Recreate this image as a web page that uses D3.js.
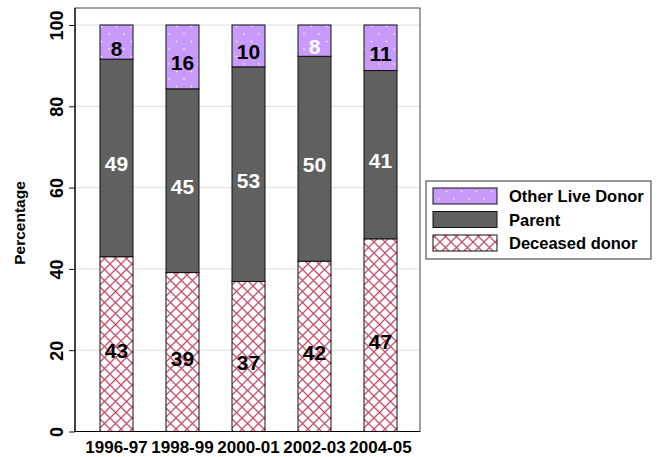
<!DOCTYPE html>
<html lang="en">
<head>
  <meta charset="UTF-8">
  <title>donor source</title>
  <script src="https://d3js.org/d3.v7.min.js"></script>
  <style>
    body { margin: 0; background: #fff; }
    svg { font-family: "Liberation Sans", Arial, sans-serif; font-weight: bold; }
  </style>
</head>
<body>
  <svg id="chart" width="658" height="457"></svg>

  <script>
    // data (percentages, labels show rounded values)
    const periods = ["1996-97", "1998-99", "2000-01", "2002-03", "2004-05"];
    const deceased = [43.0, 39.1, 36.9, 41.9, 47.4];
    const parent = [48.6, 45.2, 52.8, 50.4, 41.4];
    const otherLive = [8.4, 15.7, 10.3, 7.7, 11.2];
    const yTicks = [0, 20, 40, 60, 80, 100];
    const legendNames = ["Other Live Donor", "Parent", "Deceased donor"];

    const svg = d3.select("#chart");
    const frame = { left: 75, top: 8, right: 420, bottom: 431.5 };

    const x = d3.scaleBand().domain(periods)
      .range([83.5, 413.5])
      .paddingInner(0.5).paddingOuter(0.25);
    const y = d3.scaleLinear().domain([0, 100]).range([431.5, 25]);
    const fmt = d3.format(".0f");

    // patterns
    const defs = svg.append("defs");
    const dots = defs.append("pattern").attr("id", "dots")
      .attr("patternUnits", "userSpaceOnUse").attr("width", 15).attr("height", 15);
    dots.append("rect").attr("width", 15).attr("height", 15).attr("fill", "#c89bfa");
    dots.append("circle").attr("cx", 4).attr("cy", 4).attr("r", 0.8).attr("fill", "#fff");
    dots.append("circle").attr("cx", 11.5).attr("cy", 11.5).attr("r", 0.8).attr("fill", "#fff");

    const hatch = defs.append("pattern").attr("id", "hatch")
      .attr("patternUnits", "userSpaceOnUse").attr("width", 11).attr("height", 11);
    hatch.append("rect").attr("width", 11).attr("height", 11).attr("fill", "#fff");
    hatch.append("path").attr("d", "M0,0L11,11M11,0L0,11M-1,10L1,12M10,-1L12,1")
      .attr("stroke", "#c9506f").attr("stroke-width", 1.3);

    // grid
    svg.append("g").selectAll("line").data(yTicks.filter(d => d > 0))
      .join("line")
      .attr("x1", frame.left).attr("x2", frame.right)
      .attr("y1", d => y(d)).attr("y2", d => y(d))
      .attr("stroke", "#dddddd").attr("stroke-width", 1);

    // frame
    svg.append("rect")
      .attr("x", frame.left).attr("y", frame.top)
      .attr("width", frame.right - frame.left).attr("height", frame.bottom - frame.top)
      .attr("fill", "none").attr("stroke", "#444").attr("stroke-width", 1);
    svg.append("path")
      .attr("d", `M${frame.left},${frame.top}V${frame.bottom}H${frame.right}`)
      .attr("fill", "none").attr("stroke", "#000").attr("stroke-width", 1.2);

    // stacked bars
    const series = [
      { key: "deceased", vals: deceased, fill: "url(#hatch)" },
      { key: "parent", vals: parent, fill: "#606060" },
      { key: "other", vals: otherLive, fill: "url(#dots)" }
    ];
    const base = periods.map(() => 0);
    series.forEach(s => {
      const g = svg.append("g");
      const segs = periods.map((p, i) => {
        const seg = { p, i, y0: base[i], y1: base[i] + s.vals[i], v: s.vals[i] };
        base[i] += s.vals[i];
        return seg;
      });
      g.selectAll("rect").data(segs).join("rect")
        .attr("x", d => x(d.p))
        .attr("y", d => y(d.y1))
        .attr("width", x.bandwidth())
        .attr("height", d => y(d.y0) - y(d.y1))
        .attr("fill", s.fill)
        .attr("stroke", "#111").attr("stroke-width", 1);
      g.selectAll("text").data(segs).join("text")
        .attr("x", d => x(d.p) + x.bandwidth() / 2)
        .attr("y", d => y((d.y0 + d.y1) / 2) + 13.5)
        .attr("text-anchor", "middle")
        .attr("font-size", 21)
        .attr("fill", d => (s.key === "parent" || (s.key === "other" && d.i === 3)) ? "#fff" : "#000")
        .text(d => fmt(d.v));
    });

    // y axis
    const yAxis = svg.append("g")
      .attr("transform", "translate(" + frame.left + ",0)")
      .call(d3.axisLeft(y).tickValues(yTicks).tickSize(6).tickSizeOuter(0));
    yAxis.select(".domain").remove();
    yAxis.selectAll(".tick line").attr("stroke", "#111");
    yAxis.selectAll(".tick text")
      .attr("x", 0).attr("dy", 0)
      .attr("transform", "translate(-12,0) rotate(-90)")
      .attr("text-anchor", "middle")
      .attr("font-size", 18).attr("font-weight", "bold")
      .attr("font-family", "Liberation Sans, Arial, sans-serif")
      .attr("fill", "#000");

    svg.append("text")
      .attr("transform", "translate(25,223) rotate(-90)")
      .attr("text-anchor", "middle")
      .attr("font-size", 15.5)
      .text("Percentage");

    // x labels
    svg.append("g").selectAll("text").data(periods).join("text")
      .attr("x", d => x(d) + x.bandwidth() / 2)
      .attr("y", 453)
      .attr("text-anchor", "middle")
      .attr("font-size", 17)
      .text(d => d);

    // legend
    const legend = svg.append("g");
    legend.append("rect")
      .attr("x", 426).attr("y", 181).attr("width", 225).attr("height", 78)
      .attr("fill", "#fff").attr("stroke", "#333").attr("stroke-width", 1);
    const legFills = ["url(#dots)", "#606060", "url(#hatch)"];
    legendNames.forEach((name, i) => {
      legend.append("rect")
        .attr("x", 433).attr("y", 188 + i * 23.5)
        .attr("width", 64).attr("height", 16)
        .attr("fill", legFills[i]).attr("stroke", "#111");
      legend.append("text")
        .attr("x", 509).attr("y", 202 + i * 23.5)
        .attr("font-size", 16.5)
        .text(name);
    });
  </script>
</body>
</html>
